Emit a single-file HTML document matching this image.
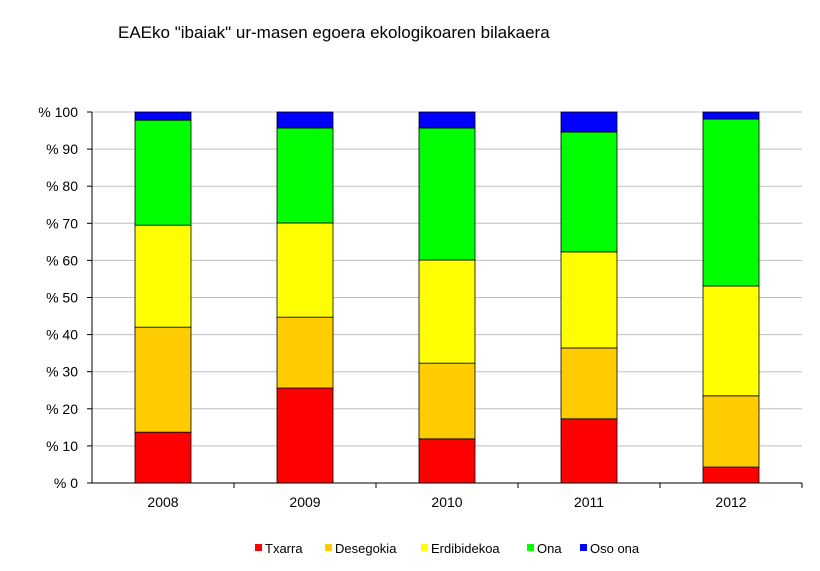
<!DOCTYPE html>
<html><head><meta charset="utf-8"><style>
body{margin:0;background:#fff;}
svg{display:block;font-family:"Liberation Sans",Arial,sans-serif;}
</style></head><body>
<svg id="chart" width="820" height="571">
<text x="118" y="38" font-size="17" fill="#000">EAEko "ibaiak" ur-masen egoera ekologikoaren bilakaera</text>
<g id="grid"></g><g id="bars"></g><g id="axes"></g><g id="legend"></g>
</svg>
<script>
const categories=["2008","2009","2010","2011","2012"];
const seriesNames=["Txarra","Desegokia","Erdibidekoa","Ona","Oso ona"];
const txarra=[13.7,25.6,11.9,17.3,4.3];
const desegokia=[28.3,19.1,20.4,19.1,19.2];
const erdibidekoa=[27.5,25.4,27.8,25.9,29.6];
const ona=[28.3,25.6,35.6,32.3,45.0];
const osoOna=[2.2,4.3,4.3,5.4,1.9];
const yTicks=[0,10,20,30,40,50,60,70,80,90,100];
const colors=["#ff0000","#ffcc00","#ffff00","#00ff00","#0000ff"];
const series=[txarra,desegokia,erdibidekoa,ona,osoOna];
const NS="http://www.w3.org/2000/svg";
const x0=92,x1=802,yB=483,yT=112;
const y=v=>yB-(v/100)*(yB-yT);
const step=(x1-x0)/categories.length;
const xc=i=>x0+step*(i+0.5);
const bw=56;
function mk(t,a,p){const e=document.createElementNS(NS,t);for(const k in a)e.setAttribute(k,a[k]);p.appendChild(e);return e;}
const grid=document.getElementById('grid'),bars=document.getElementById('bars'),axes=document.getElementById('axes'),leg=document.getElementById('legend');
yTicks.forEach(t=>{
 if(t>0){const l=mk('line',{x1:x0,x2:x1,y1:y(t),y2:y(t),stroke:'#c0c0c0','stroke-width':1},grid);
 
 }
 const tx=mk('text',{x:78,y:y(t)+5,'text-anchor':'end','font-size':14},axes);tx.textContent='% '+t;
 
 
 mk('line',{x1:x0-5,x2:x0,y1:y(t),y2:y(t),stroke:'#000'},axes);
});
categories.forEach((c,i)=>{
 let acc=0;
 series.forEach((s,j)=>{
  const r=mk('rect',{x:xc(i)-bw/2,y:y(acc+s[i]),width:bw,height:y(acc)-y(acc+s[i]),fill:colors[j],stroke:'#000','stroke-width':0.8},bars);
  
  
  acc+=s[i];
 });
 const tx=mk('text',{x:xc(i),y:yB+24,'text-anchor':'middle','font-size':14},axes);tx.textContent=c;
 
 
 mk('line',{x1:x0+step*(i+1),x2:x0+step*(i+1),y1:yB,y2:yB+5,stroke:'#000'},axes);
});
mk('line',{x1:x0,x2:x0,y1:yT,y2:yB,stroke:'#000'},axes);
mk('line',{x1:x0,x2:x1,y1:yB,y2:yB,stroke:'#000'},axes);
const lx=[255,325,421,527,580];
seriesNames.forEach((n,j)=>{
 const g=mk('g',{},leg);
 
 
 mk('rect',{x:lx[j],y:544,width:7,height:7,fill:colors[j]},g);
 const t=mk('text',{x:lx[j]+10,y:553,'font-size':13},g);t.textContent=n;
});
</script>
</body></html>
